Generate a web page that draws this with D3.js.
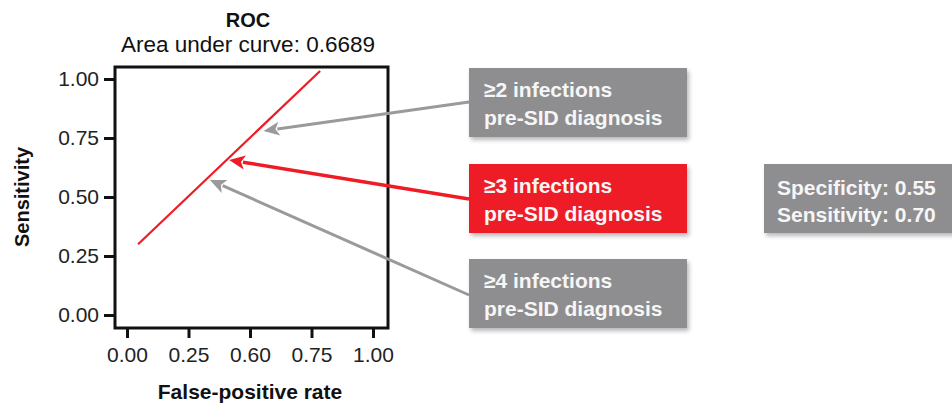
<!DOCTYPE html>
<html>
<head>
<meta charset="utf-8">
<script src="https://cdn.jsdelivr.net/npm/d3@7"></script>
<style>
  html, body { margin: 0; padding: 0; background: #fff; }
  svg { display: block; font-family: "Liberation Sans", Arial, sans-serif; }
</style>
</head>
<body>
<svg id="chart" width="952" height="405"></svg>
<script>
// ROC curve (false-positive rate vs sensitivity)
const rocFpr  = [0.045, 0.785];
const rocSens = [0.30, 1.034];

// Axis ticks
const fprTicks = [0, 0.25, 0.5, 0.75, 1];
const fprTickLabels = ["0.00", "0.25", "0.60", "0.75", "1.00"];
const sensTicks = [0, 0.25, 0.5, 0.75, 1];
const sensTickLabels = ["0.00", "0.25", "0.50", "0.75", "1.00"];

// Thresholds pointed at on the curve
const thresholdLabels = ["≥2 infections", "≥3 infections", "≥4 infections"];
const thresholdSubLabels = ["pre-SID diagnosis", "pre-SID diagnosis", "pre-SID diagnosis"];
const thresholdFpr  = [0.555, 0.415, 0.337];
const thresholdSens = [0.78, 0.657, 0.572];
const thresholdHighlight = [false, true, false];

// Operating point summary
const summaryLabels = ["Specificity: 0.55", "Sensitivity: 0.70"];

const titleText = "ROC";
const subtitleText = "Area under curve: 0.6689";
const xTitle = "False-positive rate";
const yTitle = "Sensitivity";

const RED = "#ee1c25";
const GREY_BOX = "#8e8e90";
const GREY_ARROW = "#9a9a9c";

const svg = d3.select("#chart");

const defs = svg.append("defs");
const shadow = defs.append("filter").attr("id", "shadow")
  .attr("x", "-10%").attr("y", "-10%").attr("width", "130%").attr("height", "140%");
shadow.append("feDropShadow").attr("dx", 2).attr("dy", 3)
  .attr("stdDeviation", 2.2).attr("flood-color", "#000").attr("flood-opacity", 0.28);

const x = d3.scaleLinear().domain([0, 1]).range([127, 373]);
const y = d3.scaleLinear().domain([0, 1]).range([315, 79]);

// Plot frame
const frame = { left: x(0) - 12, right: x(1) + 15, top: y(1) - 12, bottom: y(0) + 13 };

// Titles
svg.append("text").attr("x", 248).attr("y", 27)
  .attr("text-anchor", "middle").attr("font-weight", "bold").attr("font-size", 20)
  .attr("fill", "#111").text(titleText);
svg.append("text").attr("x", 248).attr("y", 52)
  .attr("text-anchor", "middle").attr("font-size", 22.5)
  .attr("fill", "#111").text(subtitleText);

// Axes
const yAxis = d3.axisLeft(y).tickValues(sensTicks)
  .tickFormat((d, i) => sensTickLabels[i]).tickSize(11).tickSizeOuter(0).tickPadding(5);
const gy = svg.append("g").attr("transform", `translate(${frame.left},0)`).call(yAxis);

const xAxis = d3.axisBottom(x).tickValues(fprTicks)
  .tickFormat((d, i) => fprTickLabels[i]).tickSize(10).tickSizeOuter(0).tickPadding(9);
const gx = svg.append("g").attr("transform", `translate(0,${frame.bottom})`).call(xAxis);

[gx, gy].forEach(g => {
  g.select(".domain").remove();
  g.selectAll(".tick line").attr("stroke", "#111").attr("stroke-width", 3);
  g.selectAll(".tick text").attr("font-size", 21).attr("fill", "#222")
    .attr("font-family", "'Liberation Sans', Arial, sans-serif");
});

svg.append("rect")
  .attr("x", frame.left).attr("y", frame.top)
  .attr("width", frame.right - frame.left).attr("height", frame.bottom - frame.top)
  .attr("fill", "none").attr("stroke", "#111").attr("stroke-width", 3);

// Axis titles
svg.append("text").attr("x", 250).attr("y", 399)
  .attr("text-anchor", "middle").attr("font-weight", "bold").attr("font-size", 21)
  .attr("fill", "#111").text(xTitle);
svg.append("text").attr("transform", "translate(29,197) rotate(-90)")
  .attr("text-anchor", "middle").attr("font-weight", "bold").attr("font-size", 20)
  .attr("fill", "#111").text(yTitle);

// ROC line
const line = d3.line().x(d => x(d[0])).y(d => y(d[1]));
svg.append("path")
  .datum(d3.zip(rocFpr, rocSens))
  .attr("d", line)
  .attr("fill", "none").attr("stroke", RED).attr("stroke-width", 2.2);

// Threshold boxes and arrows
const boxLeft = 469, boxWidth = 218, boxHeight = 69;
const boxTops = [68, 164, 259];
const tailY = [102, 199, 295];

thresholdLabels.forEach((lab, i) => {
  const col = thresholdHighlight[i] ? RED : GREY_ARROW;
  const fill = thresholdHighlight[i] ? RED : GREY_BOX;
  const tx = x(thresholdFpr[i]), ty = y(thresholdSens[i]);
  const sx = boxLeft, sy = tailY[i];
  const ang = Math.atan2(ty - sy, tx - sx);
  const headLen = 16, headHalf = 7;
  const bx = tx - headLen * Math.cos(ang), by = ty - headLen * Math.sin(ang);
  const sw = thresholdHighlight[i] ? 3.5 : 3;

  svg.append("line")
    .attr("x1", sx).attr("y1", sy).attr("x2", bx + 2 * Math.cos(ang)).attr("y2", by + 2 * Math.sin(ang))
    .attr("stroke", col).attr("stroke-width", sw);
  const px = -Math.sin(ang), py = Math.cos(ang);
  svg.append("path")
    .attr("d", `M${tx},${ty}L${bx + headHalf * px},${by + headHalf * py}L${bx + 4 * Math.cos(ang)},${by + 4 * Math.sin(ang)}L${bx - headHalf * px},${by - headHalf * py}Z`)
    .attr("fill", col);

  const g = svg.append("g");
  g.append("rect")
    .attr("x", boxLeft).attr("y", boxTops[i])
    .attr("width", boxWidth).attr("height", boxHeight)
    .attr("fill", fill).attr("filter", "url(#shadow)");
  g.append("text").attr("x", boxLeft + 15).attr("y", boxTops[i] + 29)
    .attr("font-weight", "bold").attr("font-size", 21).attr("fill", "#f6f6f6").text(lab);
  g.append("text").attr("x", boxLeft + 15).attr("y", boxTops[i] + 57)
    .attr("font-weight", "bold").attr("font-size", 21).attr("fill", "#f6f6f6").text(thresholdSubLabels[i]);
});

// Summary box
const sg = svg.append("g");
sg.append("rect").attr("x", 764).attr("y", 164).attr("width", 200).attr("height", 69)
  .attr("fill", GREY_BOX).attr("filter", "url(#shadow)");
summaryLabels.forEach((t, i) => {
  sg.append("text").attr("x", 777).attr("y", 195 + i * 27)
    .attr("font-weight", "bold").attr("font-size", 21).attr("fill", "#f6f6f6").text(t);
});
</script>
</body>
</html>
